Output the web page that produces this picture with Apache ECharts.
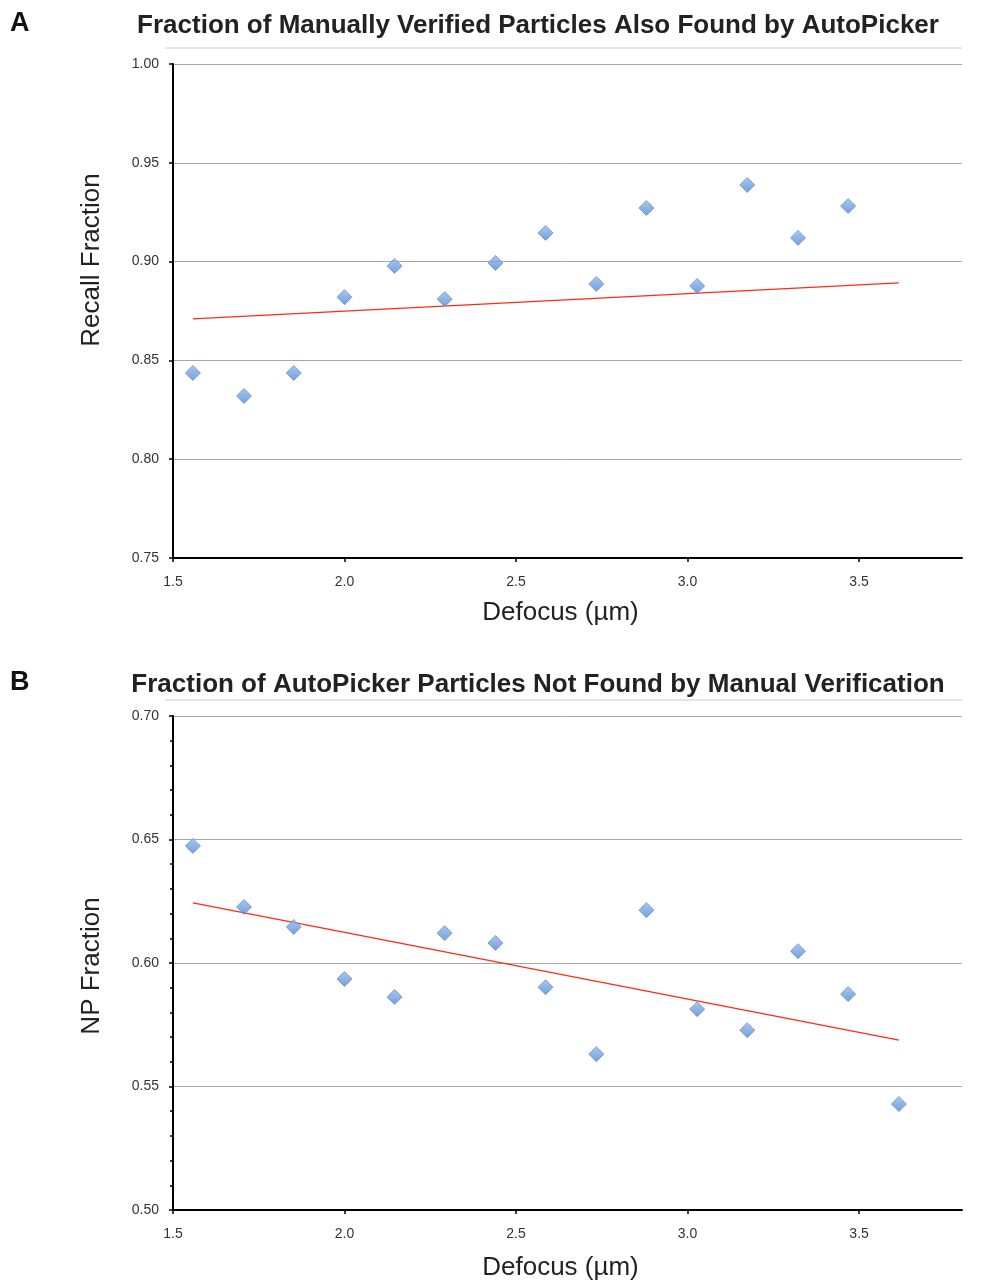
<!DOCTYPE html>
<html>
<head>
<meta charset="utf-8">
<script src="https://cdn.jsdelivr.net/npm/echarts@6/dist/echarts.min.js"></script>
<style>
html,body{margin:0;padding:0;background:#fff;}
#main{width:982px;height:1283px;}
</style>
</head>
<body>
<div id="main"></div>
<script>
// ---- data ----
const defocusA = [1.558, 1.707, 1.852, 2.0, 2.146, 2.292, 2.44, 2.586, 2.734, 2.88, 3.028, 3.174, 3.322, 3.468];
const recallA  = [0.8436, 0.832, 0.8436, 0.882, 0.8978, 0.881, 0.8993, 0.9145, 0.8887, 0.9271, 0.8877, 0.9388, 0.912, 0.9281];
const trendAx  = [1.558, 3.616];
const trendAy  = [0.871, 0.8892];

const defocusB = [1.558, 1.707, 1.852, 2.0, 2.146, 2.292, 2.44, 2.586, 2.734, 2.88, 3.028, 3.174, 3.322, 3.468, 3.616];
const npB      = [0.6474, 0.6227, 0.6146, 0.5935, 0.5862, 0.6121, 0.6081, 0.5902, 0.5631, 0.6214, 0.5813, 0.5728, 0.6048, 0.5874, 0.5429];
const trendBx  = [1.558, 3.616];
const trendBy  = [0.6243, 0.5688];

const titleA = 'Fraction of Manually Verified Particles Also Found by AutoPicker';
const titleB = 'Fraction of AutoPicker Particles Not Found by Manual Verification';
const xName = 'Defocus (\u00b5m)';
const yNameA = 'Recall Fraction';
const yNameB = 'NP Fraction';

const zip = (xs, ys) => xs.map((x, i) => [x, ys[i]]);

const FONT = 'Liberation Sans, Arial, sans-serif';
const markerStyle = {
  color: new echarts.graphic.LinearGradient(0, 0, 0, 1, [
    {offset: 0, color: '#8fbcf2'},
    {offset: 1, color: '#4f87d4'}
  ]),
  borderColor: '#7890b4',
  borderWidth: 1
};

function xAxisCfg(gridIndex, gap) {
  return {
    type: 'value', gridIndex: gridIndex, min: 1.5, max: 3.8, interval: 0.5,
    name: xName, nameLocation: 'middle', nameGap: gap,
    nameTextStyle: {fontFamily: FONT, fontSize: 26, color: '#222', padding: [0, 14, 0, 0]},
    axisLine: {show: true, onZero: false, lineStyle: {color: '#000', width: 2}},
    axisTick: {show: true, length: 4, lineStyle: {color: '#000', width: 1.5}},
    axisLabel: {fontFamily: FONT, fontSize: 14, color: '#333', margin: 17, showMaxLabel: false,
      formatter: v => v.toFixed(1)},
    splitLine: {show: false}
  };
}
function yAxisCfg(gridIndex, min, max, minor) {
  return {
    type: 'value', gridIndex: gridIndex, min: min, max: max, interval: 0.05,
    axisLine: {show: true, onZero: false, lineStyle: {color: '#000', width: 2}},
    axisTick: {show: true, length: 4, lineStyle: {color: '#000', width: 1.5}},
    minorTick: {show: minor, splitNumber: 5, length: 3, lineStyle: {color: '#000', width: 1.5}},
    axisLabel: {fontFamily: FONT, fontSize: 14, color: '#333', margin: 14,
      formatter: v => v.toFixed(2)},
    splitLine: {show: true, lineStyle: {color: '#a6a6a6', width: 1}}
  };
}

const chart = echarts.init(document.getElementById('main'), null, {renderer: 'canvas'});
chart.setOption({
  backgroundColor: '#fff',
  animation: false,
  title: [
    {text: titleA, left: 533, textAlign: 'center', top: 8,
      textStyle: {fontFamily: FONT, fontSize: 26, fontWeight: 'bold', color: '#222'}},
    {text: titleB, left: 533, textAlign: 'center', top: 667,
      textStyle: {fontFamily: FONT, fontSize: 26, fontWeight: 'bold', color: '#222'}}
  ],
  graphic: [
    {type: 'text', left: 10, top: 10, style: {text: 'A', font: 'bold 27px ' + FONT, fill: '#111'}},
    {type: 'text', left: 10, top: 669, style: {text: 'B', font: 'bold 27px ' + FONT, fill: '#111'}},
    {type: 'text', x: 92, y: 260, rotation: Math.PI / 2,
      style: {text: yNameA, font: '26px ' + FONT, fill: '#222', align: 'center', verticalAlign: 'middle'}},
    {type: 'text', x: 92, y: 966, rotation: Math.PI / 2,
      style: {text: yNameB, font: '26px ' + FONT, fill: '#222', align: 'center', verticalAlign: 'middle'}},
    {type: 'line', shape: {x1: 165, y1: 48, x2: 962, y2: 48}, style: {stroke: '#c8c8c8', lineWidth: 1}},
    {type: 'line', shape: {x1: 165, y1: 700, x2: 962, y2: 700}, style: {stroke: '#c8c8c8', lineWidth: 1}}
  ],
  grid: [
    {left: 173, top: 64, width: 789, height: 494},
    {left: 173, top: 716, width: 789, height: 494}
  ],
  xAxis: [xAxisCfg(0, 42), xAxisCfg(1, 45)],
  yAxis: [yAxisCfg(0, 0.75, 1.0, false), yAxisCfg(1, 0.5, 0.7, true)],
  series: [
    {type: 'line', xAxisIndex: 0, yAxisIndex: 0, data: zip(trendAx, trendAy), symbol: 'none',
      lineStyle: {color: '#ff2a12', width: 1.3}, z: 2},
    {type: 'scatter', xAxisIndex: 0, yAxisIndex: 0, data: zip(defocusA, recallA), symbol: 'diamond',
      symbolSize: 15, itemStyle: markerStyle, z: 3},
    {type: 'line', xAxisIndex: 1, yAxisIndex: 1, data: zip(trendBx, trendBy), symbol: 'none',
      lineStyle: {color: '#ff2a12', width: 1.3}, z: 2},
    {type: 'scatter', xAxisIndex: 1, yAxisIndex: 1, data: zip(defocusB, npB), symbol: 'diamond',
      symbolSize: 15, itemStyle: markerStyle, z: 3}
  ]
});
</script>
</body>
</html>
